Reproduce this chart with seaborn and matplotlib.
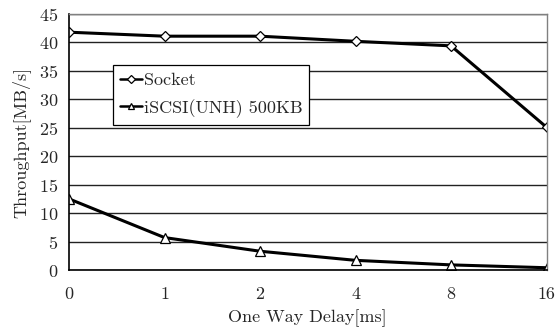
import matplotlib
matplotlib.use("Agg")
import matplotlib.pyplot as plt
import seaborn as sns
import pandas as pd

delays = ["0", "1", "2", "4", "8", "16"]
socket = [41.8, 41.1, 41.1, 40.2, 39.4, 25.1]
iscsi = [12.5, 5.7, 3.3, 1.7, 0.9, 0.4]
series_names = ["Socket", "iSCSI(UNH) 500KB"]
yticks = [0, 5, 10, 15, 20, 25, 30, 35, 40, 45]

sns.set_style("white")
plt.rcParams['font.family'] = ['cmr10', 'DejaVu Serif']
plt.rcParams['axes.formatter.use_mathtext'] = True
plt.rcParams['mathtext.fontset'] = 'cm'

pos = list(range(len(delays)))
df = pd.DataFrame({
    "pos": pos * 2,
    "val": socket + iscsi,
    "series": [series_names[0]] * len(delays) + [series_names[1]] * len(delays),
})

fig = plt.figure(figsize=(5.58, 3.34), dpi=100)
ax = fig.add_axes([0.1237, 0.1916, 0.8557, 0.7665])

sns.lineplot(data=df, x="pos", y="val", hue="series", style="series",
             markers={series_names[0]: "D", series_names[1]: "^"},
             dashes=False, palette={series_names[0]: "black", series_names[1]: "black"},
             linewidth=2.2, markersize=6.5, markerfacecolor="white",
             markeredgecolor="black", markeredgewidth=0.9, ax=ax, legend=True)

for ln in ax.lines:
    if ln.get_marker() == "D":
        ln.set_markersize(5)

ax.set_xlim(0, len(delays) - 1)
ax.set_ylim(0, 45)
ax.set_xticks(pos)
ax.set_xticklabels(delays)
ax.set_yticks(yticks)
ax.yaxis.grid(True, color="#222222", linewidth=1.0)
ax.set_axisbelow(True)
for s in ["top", "right"]:
    ax.spines[s].set_color("#808080")
    ax.spines[s].set_linewidth(1.0)
for s in ["left", "bottom"]:
    ax.spines[s].set_color("black")
    ax.spines[s].set_linewidth(1.2)
ax.tick_params(axis="both", which="both", direction="out", length=3, width=0.8,
               labelsize=13, color="black", pad=9)
ax.tick_params(axis="y", pad=5)
ax.set_xlabel("One Way Delay[ms]", fontsize=13, labelpad=5)
ax.set_ylabel("Throughput[MB/s]", fontsize=13, labelpad=6)

leg = ax.legend(loc="upper left", bbox_to_anchor=(0.092, 0.80), frameon=True,
                fancybox=False, edgecolor="black", fontsize=13, handlelength=1.2,
                handletextpad=0.1, borderpad=0.4, labelspacing=0.6, title=None,
                borderaxespad=0)
leg.get_frame().set_linewidth(0.9)
leg.get_frame().set_facecolor("white")
leg.get_frame().set_alpha(1)
for h in leg.get_lines():
    h.set_markersize(4)
    h.set_linewidth(1.8)

fig.savefig("out.png", dpi=100)
